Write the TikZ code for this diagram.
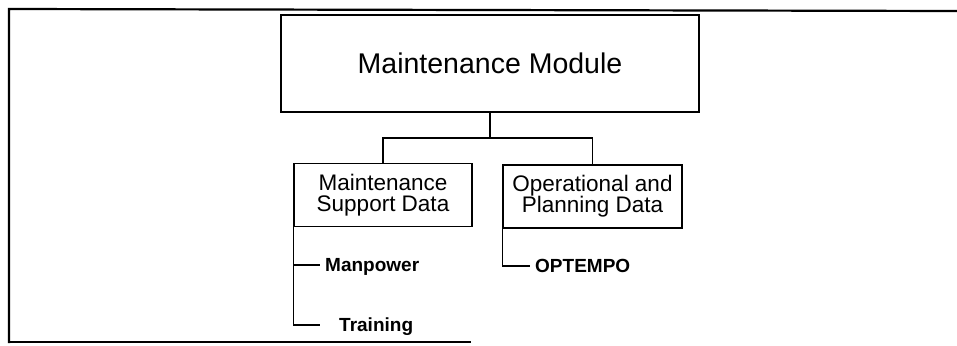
\documentclass[tikz,border=0pt]{standalone}
\usepackage{fontspec}
\setmainfont{Liberation Sans}
\usepackage{tikz}
\usetikzlibrary{positioning}

\begin{document}
\begin{tikzpicture}[%
    x=1pt,
    y=-1pt,
    frame/.style={%
      line width=2.2pt,
      line cap=rect
    },
    link/.style={%
      line width=1.1pt
    },
    topbox/.style={%
      draw,
      line width=1.3pt,
      minimum width=418pt,
      minimum height=97pt,
      font=\fontsize{28.5}{30}\selectfont
    },
    databox/.style={%
      draw,
      line width=1.3pt,
      align=center,
      minimum height=63pt,
      inner sep=0pt,
      font=\fontsize{22.5}{21}\selectfont
    },
    leaf/.style={%
      anchor=west,
      inner xsep=5pt,
      inner ysep=1pt,
      text depth=0pt,
      font=\fontsize{19}{20}\selectfont\bfseries
    }
  ]
    \useasboundingbox (0,0) rectangle (957,345);
    \draw[frame] (9,342) -- (9,9) -- (957,11);
    \draw[frame] (9,342) -- (470,342);

    \node[topbox] (module) at (490,63.5) {Maintenance Module};
    \node[databox, minimum width=178pt] (support) at (383,195) {Maintenance\\Support Data};
    \node[databox, minimum width=179pt] (planning) at (592.5,196.5) {Operational and\\Planning Data};
    \node[leaf] (manpower) at (320,265) {Manpower};
    \node[leaf, inner xsep=19pt] (training) at (320,325) {Training};
    \node[leaf] (optempo) at (530,266) {OPTEMPO};

    \coordinate (fork) at (489,138);

    \draw[link] (module.south) -- (module.south |- fork) -| (support.north);
    \draw[link] (module.south |- fork) -| (planning.north);
    \draw[link] (support.south west) |- (manpower.west);
    \draw[link] (support.south west) |- (training.west);
    \draw[link] (planning.south west) |- (optempo.west);
\end{tikzpicture}
\end{document}
